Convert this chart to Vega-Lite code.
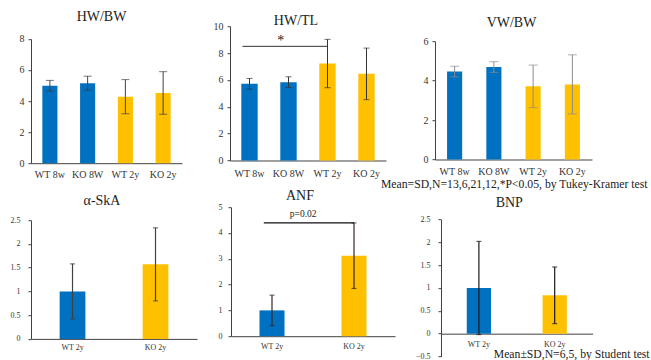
{
  "$schema": "https://vega.github.io/schema/vega-lite/v6.json",
  "padding": {"left": 6, "top": 10.2, "right": 0, "bottom": 0},
  "autosize": {"type": "pad"},
  "background": "white",
  "datasets": {
    "bars": [
      {"panel": "HW/BW", "group": "WT 8w", "age": "8w", "geno": "WT", "mean": 4.98, "sd": 0.35},
      {"panel": "HW/BW", "group": "KO 8W", "age": "8w", "geno": "KO", "mean": 5.15, "sd": 0.45},
      {"panel": "HW/BW", "group": "WT 2y", "age": "2y", "geno": "WT", "mean": 4.28, "sd": 1.1},
      {"panel": "HW/BW", "group": "KO 2y", "age": "2y", "geno": "KO", "mean": 4.52, "sd": 1.37},
      {"panel": "HW/TL", "group": "WT 8w", "age": "8w", "geno": "WT", "mean": 5.71, "sd": 0.4},
      {"panel": "HW/TL", "group": "KO 8W", "age": "8w", "geno": "KO", "mean": 5.83, "sd": 0.4},
      {"panel": "HW/TL", "group": "WT 2y", "age": "2y", "geno": "WT", "mean": 7.22, "sd": 1.8},
      {"panel": "HW/TL", "group": "KO 2y", "age": "2y", "geno": "KO", "mean": 6.45, "sd": 1.92},
      {"panel": "VW/BW", "group": "WT 8w", "age": "8w", "geno": "WT", "mean": 4.46, "sd": 0.27},
      {"panel": "VW/BW", "group": "KO 8W", "age": "8w", "geno": "KO", "mean": 4.69, "sd": 0.27},
      {"panel": "VW/BW", "group": "WT 2y", "age": "2y", "geno": "WT", "mean": 3.71, "sd": 1.08},
      {"panel": "VW/BW", "group": "KO 2y", "age": "2y", "geno": "KO", "mean": 3.81, "sd": 1.5},
      {"panel": "α-SkA", "group": "WT 2y", "age": "2y", "geno": "WT", "mean": 1.0, "sd": 0.58},
      {"panel": "α-SkA", "group": "KO 2y", "age": "2y", "geno": "KO", "mean": 1.57, "sd": 0.77},
      {"panel": "ANF", "group": "WT 2y", "age": "2y", "geno": "WT", "mean": 1.0, "sd": 0.59},
      {"panel": "ANF", "group": "KO 2y", "age": "2y", "geno": "KO", "mean": 3.12, "sd": 1.27},
      {"panel": "BNP", "group": "WT 2y", "age": "2y", "geno": "WT", "mean": 1.0, "sd": 1.02},
      {"panel": "BNP", "group": "KO 2y", "age": "2y", "geno": "KO", "mean": 0.84, "sd": 0.62}
    ],
    "notes": [
      {"panel": "HW/TL", "from": "WT 8w", "to": "WT 2y", "level": 8.5, "textAt": "KO 8W", "textLevel": 8.9, "label": "*"},
      {"panel": "ANF", "from": "WT 2y", "to": "KO 2y", "level": 4.39, "textAt": "WT 2y", "textLevel": 4.72, "label": "p=0.02"},
      {"panel": "BNP", "textAt": "KO 2y", "textLevel": -0.5, "label": "Mean±SD,N=6,5, by Student test"}
    ]
  },
  "spacing": -2,
  "resolve": {"scale": {"color": "independent"}},
  "vconcat": [
    {
      "title": {"text": "Mean=SD,N=13,6,21,12,*P<0.05, by Tukey-Kramer test", "orient": "bottom", "anchor": "end", "dx": 55.5, "offset": 0, "fontSize": 11.7},
      "spacing": 20,
      "resolve": {"scale": {"color": "independent"}},
      "hconcat": [
        {
          "width": 151, "height": 137,
          "title": {"text": "HW/BW", "frame": "group", "offset": 1.8, "dx": -5},
          "data": {"name": "bars"},
          "transform": [{"filter": "datum.panel === 'HW/BW'"}],
          "encoding": {
            "x": {"field": "group", "type": "nominal", "scale": {"domain": ["WT 8w", "KO 8W", "WT 2y", "KO 2y"], "paddingInner": 0, "paddingOuter": 0}, "axis": {"title": null, "labelAngle": 0, "ticks": false, "labelPadding": 6, "labelFontSize": 10}},
            "y": {"field": "mean", "type": "quantitative", "scale": {"domain": [0, 8], "nice": false, "range": [137, 12.7]}, "axis": {"title": null, "values": [0, 2, 4, 6, 8], "tickSize": 3, "labelPadding": 4, "labelFontSize": 10, "labelOverlap": false, "minExtent": 24.5}}
          },
          "layer": [
            {"mark": {"type": "bar", "width": {"band": 0.4}}, "encoding": {"color": {"field": "age", "type": "nominal", "scale": {"domain": ["8w", "2y"], "range": ["#0070C0", "#FFC000"]}, "legend": null}}},
            {"mark": {"type": "errorbar", "ticks": true, "size": 8, "thickness": 1, "color": "#404040"}, "encoding": {"yError": {"field": "sd"}}}
          ]
        },
        {
          "width": 156, "height": 137,
          "title": {"text": "HW/TL", "frame": "group", "offset": -6.5, "dx": -12},
          "encoding": {
            "x": {"field": "group", "type": "nominal", "scale": {"domain": ["WT 8w", "KO 8W", "WT 2y", "KO 2y"], "paddingInner": 0, "paddingOuter": 0}, "axis": {"title": null, "labelAngle": 0, "ticks": false, "labelPadding": 8.5, "labelFontSize": 10, "offset": -2.7}},
            "y": {"field": "mean", "type": "quantitative", "scale": {"domain": [0, 10], "nice": false, "range": [134.3, 0]}, "axis": {"title": null, "values": [0, 2, 4, 6, 8, 10], "tickSize": 3, "labelPadding": 4, "labelFontSize": 10, "labelOverlap": false, "minExtent": 27.7}}
          },
          "layer": [
            {"data": {"name": "bars"}, "transform": [{"filter": "datum.panel === 'HW/TL'"}], "mark": {"type": "bar", "width": {"band": 0.42}}, "encoding": {"color": {"field": "age", "type": "nominal", "scale": {"domain": ["8w", "2y"], "range": ["#0070C0", "#FFC000"]}, "legend": null}}},
            {"data": {"name": "bars"}, "transform": [{"filter": "datum.panel === 'HW/TL'"}], "mark": {"type": "errorbar", "ticks": true, "size": 6, "thickness": 1, "color": "#333333"}, "encoding": {"yError": {"field": "sd"}}},
            {"data": {"name": "notes"}, "transform": [{"filter": "datum.panel === 'HW/TL'"}], "mark": {"type": "rule", "color": "#333333", "strokeWidth": 1}, "encoding": {"x": {"field": "from", "type": "nominal", "bandPosition": 0.32}, "x2": {"field": "to"}, "y": {"field": "level", "type": "quantitative"}}},
            {"data": {"name": "notes"}, "transform": [{"filter": "datum.panel === 'HW/TL'"}], "mark": {"type": "text", "fontSize": 14, "baseline": "middle", "color": "#222222"}, "encoding": {"x": {"field": "textAt", "type": "nominal", "bandPosition": 0.3}, "y": {"field": "textLevel", "type": "quantitative"}, "text": {"field": "label"}}}
          ]
        },
        {
          "width": 157, "height": 137,
          "title": {"text": "VW/BW", "frame": "group", "offset": -4.2, "dx": -2},
          "data": {"name": "bars"},
          "transform": [{"filter": "datum.panel === 'VW/BW'"}],
          "encoding": {
            "x": {"field": "group", "type": "nominal", "scale": {"domain": ["WT 8w", "KO 8W", "WT 2y", "KO 2y"], "paddingInner": 0, "paddingOuter": 0}, "axis": {"title": null, "labelAngle": 0, "ticks": false, "labelPadding": 6.7, "labelFontSize": 10, "offset": -3.7}},
            "y": {"field": "mean", "type": "quantitative", "scale": {"domain": [0, 6], "nice": false, "range": [133.3, 15]}, "axis": {"title": null, "values": [0, 2, 4, 6], "tickSize": 3, "labelPadding": 4, "labelFontSize": 10, "labelOverlap": false, "minExtent": 28.3}}
          },
          "layer": [
            {"mark": {"type": "bar", "width": {"band": 0.385}}, "encoding": {"color": {"field": "age", "type": "nominal", "scale": {"domain": ["8w", "2y"], "range": ["#0070C0", "#FFC000"]}, "legend": null}}},
            {"mark": {"type": "errorbar", "ticks": true, "size": 9, "thickness": 1, "color": "#8c8c8c"}, "encoding": {"yError": {"field": "sd"}}}
          ]
        }
      ]
    },
    {
      "spacing": 10,
      "resolve": {"scale": {"color": "independent"}},
      "hconcat": [
        {
          "width": 166, "height": 149.3,
          "title": {"text": "α-SkA", "frame": "group", "offset": -0.7, "dx": -12},
          "data": {"name": "bars"},
          "transform": [{"filter": "datum.panel === 'α-SkA'"}],
          "encoding": {
            "x": {"field": "group", "type": "nominal", "scale": {"domain": ["WT 2y", "KO 2y"], "paddingInner": 0, "paddingOuter": 0}, "axis": {"title": null, "labelAngle": 0, "ticks": false, "labelPadding": 4.3, "labelFontSize": 8, "offset": -17.6}},
            "y": {"field": "mean", "type": "quantitative", "scale": {"domain": [0, 2.5], "nice": false, "range": [131.7, 13]}, "axis": {"title": null, "values": [0, 0.5, 1, 1.5, 2, 2.5], "format": "~g", "tickSize": 3, "labelPadding": 8, "labelFontSize": 8, "labelOverlap": false, "minExtent": 23.3}}
          },
          "layer": [
            {"mark": {"type": "bar", "width": {"band": 0.31}}, "encoding": {"color": {"field": "geno", "type": "nominal", "scale": {"domain": ["WT", "KO"], "range": ["#0070C0", "#FFC000"]}, "legend": null}}},
            {"mark": {"type": "errorbar", "ticks": true, "size": 5, "thickness": 1.2, "color": "#404040"}, "encoding": {"yError": {"field": "sd"}}}
          ]
        },
        {
          "width": 164, "height": 149.3,
          "title": {"text": "ANF", "frame": "group", "offset": 0, "dx": -13},
          "encoding": {
            "x": {"field": "group", "type": "nominal", "scale": {"domain": ["WT 2y", "KO 2y"], "paddingInner": 0, "paddingOuter": 0}, "axis": {"title": null, "labelAngle": 0, "ticks": false, "labelPadding": 6.7, "labelFontSize": 8, "offset": -20.3}},
            "y": {"field": "mean", "type": "quantitative", "scale": {"domain": [0, 5], "nice": false, "range": [129, 0]}, "axis": {"title": null, "values": [0, 1, 2, 3, 4, 5], "tickSize": 3, "labelPadding": 6, "labelFontSize": 8, "labelOverlap": false, "minExtent": 23.4}}
          },
          "layer": [
            {"data": {"name": "bars"}, "transform": [{"filter": "datum.panel === 'ANF'"}], "mark": {"type": "bar", "width": {"band": 0.305}}, "encoding": {"color": {"field": "geno", "type": "nominal", "scale": {"domain": ["WT", "KO"], "range": ["#0070C0", "#FFC000"]}, "legend": null}}},
            {"data": {"name": "bars"}, "transform": [{"filter": "datum.panel === 'ANF'"}], "mark": {"type": "errorbar", "ticks": true, "size": 5, "thickness": 1.2, "color": "#3a2626"}, "encoding": {"yError": {"field": "sd"}}},
            {"data": {"name": "notes"}, "transform": [{"filter": "datum.panel === 'ANF'"}], "mark": {"type": "rule", "color": "#111111", "strokeWidth": 1.2}, "encoding": {"x": {"field": "from", "type": "nominal", "bandPosition": 0.4}, "x2": {"field": "to"}, "y": {"field": "level", "type": "quantitative"}}},
            {"data": {"name": "notes"}, "transform": [{"filter": "datum.panel === 'ANF'"}], "mark": {"type": "text", "fontSize": 9.5, "baseline": "middle", "color": "#222222"}, "encoding": {"x": {"field": "textAt", "type": "nominal", "bandPosition": 0.88}, "y": {"field": "textLevel", "type": "quantitative"}, "text": {"field": "label"}}}
          ]
        },
        {
          "width": 151.6, "height": 149.3,
          "title": {"text": "BNP", "frame": "group", "offset": -3.3, "dx": -7.5},
          "encoding": {
            "x": {"field": "group", "type": "nominal", "scale": {"domain": ["WT 2y", "KO 2y"], "paddingInner": 0, "paddingOuter": 0}, "axis": {"title": null, "labelAngle": 0, "ticks": false, "labelPadding": 6.6, "labelFontSize": 8, "offset": -22.83}},
            "y": {"field": "mean", "type": "quantitative", "scale": {"domain": [-0.5, 2.5], "nice": false, "range": [149.3, 12.3]}, "axis": {"title": null, "values": [-0.5, 0, 0.5, 1, 1.5, 2, 2.5], "format": "~g", "tickSize": 3, "labelPadding": 8, "labelFontSize": 8, "labelOverlap": false, "minExtent": 36}}
          },
          "layer": [
            {"data": {"name": "bars"}, "transform": [{"filter": "datum.panel === 'BNP'"}], "mark": {"type": "bar", "width": {"band": 0.32}}, "encoding": {"color": {"field": "geno", "type": "nominal", "scale": {"domain": ["WT", "KO"], "range": ["#0070C0", "#FFC000"]}, "legend": null}}},
            {"data": {"name": "bars"}, "transform": [{"filter": "datum.panel === 'BNP'"}], "mark": {"type": "errorbar", "ticks": true, "size": 5, "thickness": 1.2, "color": "#1a1a1a"}, "encoding": {"yError": {"field": "sd"}}},
            {"data": {"name": "notes"}, "transform": [{"filter": "datum.panel === 'BNP'"}], "mark": {"type": "text", "fontSize": 11.7, "baseline": "middle", "dx": 17, "dy": -2.5, "color": "#222222"}, "encoding": {"x": {"field": "textAt", "type": "nominal"}, "y": {"field": "textLevel", "type": "quantitative"}, "text": {"field": "label"}}}
          ]
        }
      ]
    }
  ],
  "config": {
    "view": {"stroke": null},
    "font": "Liberation Serif",
    "axis": {"labelFont": "Liberation Serif", "grid": false, "domainColor": "#404040", "tickColor": "#404040", "labelColor": "#333333"},
    "title": {"font": "Liberation Serif", "fontWeight": "normal", "fontSize": 14, "color": "#222222"}
  }
}
